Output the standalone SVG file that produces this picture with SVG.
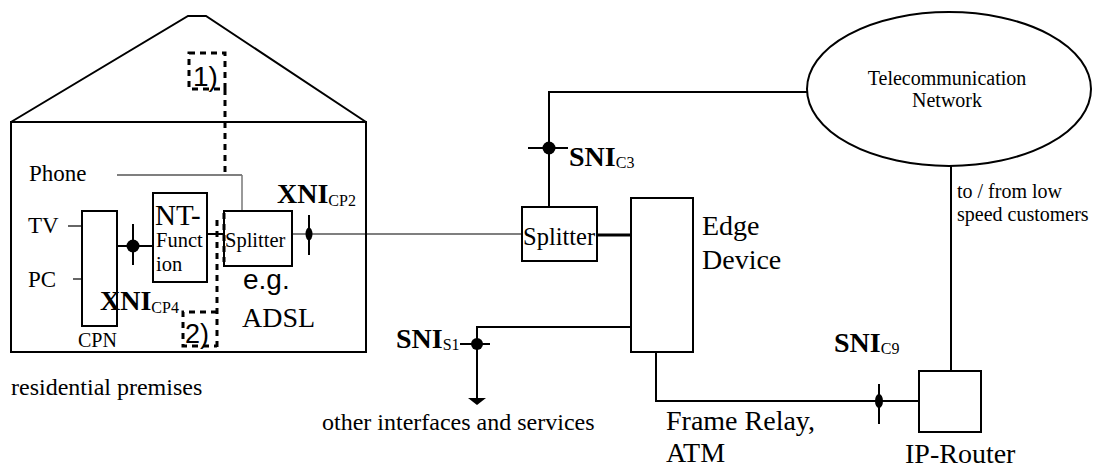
<svg xmlns="http://www.w3.org/2000/svg" width="1093" height="467" viewBox="0 0 1093 467">
<style>
.s{fill:none;stroke:#000;stroke-width:2}
.t{fill:none;stroke:#000;stroke-width:1.2}
.d{fill:none;stroke:#000;stroke-width:3;stroke-dasharray:6 5}
.box{fill:#fff;stroke:#000;stroke-width:2}
text{font-family:"Liberation Serif","Times New Roman",serif;fill:#000}
.sans{font-family:"Liberation Sans",Arial,sans-serif}
.b{font-weight:bold;font-size:28px}
.sub{font-weight:normal;font-size:16px}
</style>
<defs>
<marker id="arr" markerWidth="8" markerHeight="18" refX="0" refY="9" orient="auto" markerUnits="userSpaceOnUse" viewBox="0 0 8 18"><path d="M0,0 L7,9 L0,18 Z" fill="#000"/></marker>
</defs>
<rect width="1093" height="467" fill="#fff"/>

<g id="house">
<path class="s" d="M11,122 L188,16 L206,16 L366,122"/>
<rect class="s" x="11" y="122" width="355" height="230"/>
<text x="11" y="395" font-size="24">residential premises</text>
</g>

<g id="connectors">
<path d="M117,175 H242" stroke="#000" stroke-width="1.2" fill="none"/>
<path d="M242,175 V211" stroke="#777" stroke-width="1.5" fill="none"/>
<path class="t" d="M68,226 H82"/>
<path class="t" d="M73,279 H82"/>
<path class="s" d="M117,246 H153"/>
<path class="s" d="M207,234 H224"/>
<path class="t" d="M292,234 H522"/>
<path class="s" d="M549,207 V92 H808"/>
<path d="M597,235 H631" stroke="#000" stroke-width="3" fill="none"/>
<path class="s" d="M631,327 H477 V398" marker-end="url(#arr)"/>
<path class="s" d="M656,352 V401 H919"/>
<path class="s" d="M951,166 V371"/>
<path class="d" d="M225,89 V176"/>
<path class="d" d="M217,220 V347"/>
<!-- interface markers -->
<path class="s" d="M133,224 V265"/>
<circle cx="133" cy="246" r="6.5"/>
<path class="s" d="M309,215 V255"/>
<ellipse cx="309" cy="234" rx="3.5" ry="6.5"/>
<path class="s" d="M528,148 H568"/>
<circle cx="549" cy="148" r="6.5"/>
<path class="s" d="M460,344 H490"/>
<circle cx="477" cy="344" r="6"/>
<path class="s" d="M879,384 V424"/>
<ellipse cx="879" cy="401" rx="4" ry="7"/>
</g>

<g id="label1">
<rect class="d" x="189" y="53" width="36" height="36"/>
<text class="sans" x="193" y="86" font-size="28">1)</text>
</g>

<g id="label2">
<path class="d" d="M217,312 H183 V346 H217"/>
<text class="sans" x="185" y="343" font-size="27">2)</text>
</g>

<g id="phone"><text x="29" y="181" font-size="23">Phone</text></g>
<g id="tv"><text x="28" y="233" font-size="23">TV</text></g>
<g id="pc"><text x="28" y="287" font-size="23">PC</text></g>

<g id="cpn">
<rect class="box" x="82" y="211" width="35" height="115"/>
<text x="78" y="347" font-size="20">CPN</text>
</g>

<g id="ntfunction">
<rect class="box" x="153" y="193" width="54" height="89"/>
<text x="155" y="225" font-size="29">NT-</text>
<text x="156" y="247" font-size="20.5">Funct</text>
<text x="156" y="271" font-size="20.5">ion</text>
</g>

<g id="splitter1">
<rect class="box" x="224" y="211" width="68" height="55"/>
<path class="d" d="M224,213 V262"/>
<text x="225" y="247" font-size="20.5">Splitter</text>
<text class="sans" x="243" y="289" font-size="28">e.g.</text>
<text x="242" y="327" font-size="28">ADSL</text>
</g>

<g id="splitter2">
<rect class="box" x="522" y="207" width="75" height="54"/>
<text x="523" y="245" font-size="24.5">Splitter</text>
</g>

<g id="edge">
<rect class="box" x="631" y="198" width="62" height="154"/>
<text x="702" y="235" font-size="28">Edge</text>
<text x="702" y="269" font-size="28">Device</text>
</g>

<g id="network">
<ellipse class="s" cx="949" cy="89" rx="142" ry="77" fill="#fff"/>
<text x="947" y="85" font-size="20" text-anchor="middle">Telecommunication</text>
<text x="947" y="107" font-size="20" text-anchor="middle">Network</text>
<text x="957" y="198" font-size="20">to / from low</text>
<text x="957" y="221" font-size="20">speed customers</text>
</g>

<g id="router">
<rect class="box" x="919" y="371" width="62" height="61"/>
<text x="905" y="463" font-size="28">IP-Router</text>
</g>

<g id="labels">
<text class="b" x="100" y="310">XNI<tspan class="sub" dy="3">CP4</tspan></text>
<text class="b" x="277" y="203">XNI<tspan class="sub" dy="3">CP2</tspan></text>
<text class="b" x="569" y="166">SNI<tspan class="sub" dy="2">C3</tspan></text>
<text class="b" x="396" y="348">SNI<tspan class="sub" dy="2">S1</tspan></text>
<text class="b" x="834" y="352">SNI<tspan class="sub" dy="2">C9</tspan></text>
<text x="322" y="430" font-size="24">other interfaces and services</text>
<text x="666" y="430" font-size="28">Frame Relay,</text>
<text x="666" y="462" font-size="28">ATM</text>
</g>
</svg>
